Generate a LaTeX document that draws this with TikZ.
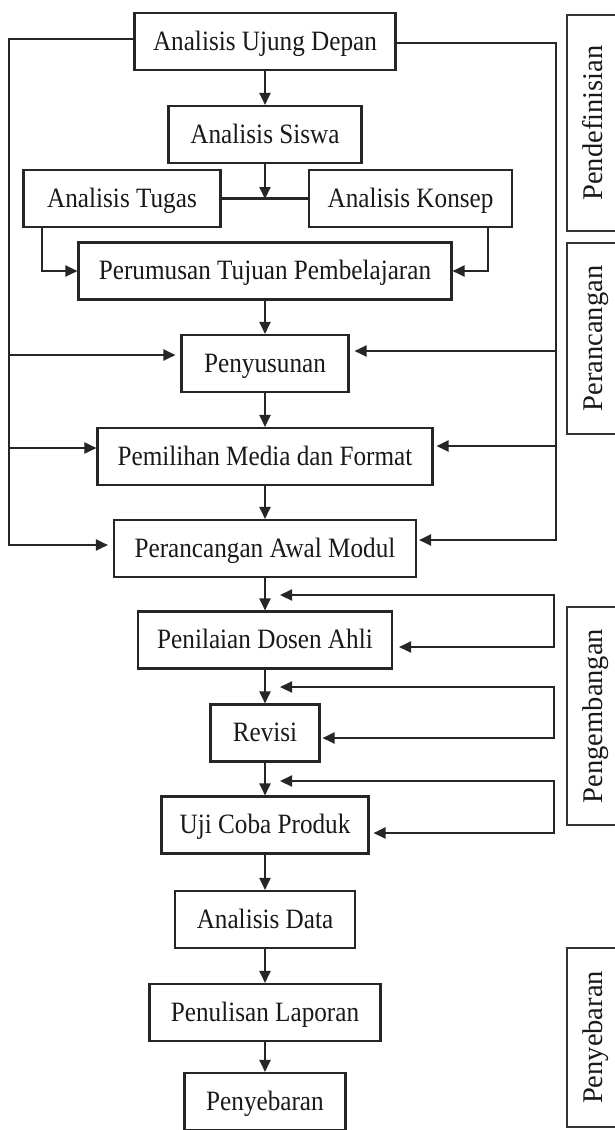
\documentclass[tikz,border=0pt]{standalone}
\usepackage{fontspec}
\setmainfont[FakeStretch=0.9]{Liberation Serif}
\newfontfamily\sidefont{Liberation Serif}
\usetikzlibrary{arrows.meta}
\begin{document}
\begin{tikzpicture}[x=1pt,y=-1pt,
  box/.style={draw=black!85, line width=2.1pt, minimum height=57pt, inner sep=0pt,
    text height=18pt, text depth=1pt, font=\fontsize{28}{31}\selectfont, text=black!90},
  ln/.style={line width=2.1pt, draw=black!85},
  arr/.style={ln, -{Triangle[length=12pt,width=11pt]}},
  barr/.style={ln, {Triangle[length=12pt,width=11pt]}-{Triangle[length=12pt,width=11pt]}},
  sidebox/.style={draw=black!80, line width=1.8pt, rotate=90, inner sep=0pt,
    minimum height=51pt, text height=19pt, text depth=0pt,
    font=\sidefont\fontsize{28.5}{32}\selectfont, text=black!90}]
\useasboundingbox (0,0) rectangle (615,1130);
\fill[white] (0,0) rectangle (615,1130);
\clip (0,0) rectangle (615,1130);

% main boxes
\node[box, minimum width=261pt] (adu) at (265,41.5) {Analisis Ujung Depan};
\node[box, minimum width=193pt] (siswa) at (265,134.5) {Analisis Siswa};
\node[box, minimum width=197pt] (tugas) at (122,198.5) {Analisis Tugas};
\node[box, minimum width=203pt] (konsep) at (410.5,198.5) {Analisis Konsep};
\node[box, minimum width=373pt] (rumus) at (265,271) {Perumusan Tujuan Pembelajaran};
\node[box, minimum width=167pt] (susun) at (265,363.5) {Penyusunan};
\node[box, minimum width=335pt] (pilih) at (265,456.5) {Pemilihan Media dan Format};
\node[box, minimum width=302pt] (awal) at (265,548.5) {Perancangan Awal Modul};
\node[box, minimum width=254pt] (nilai) at (265,640) {Penilaian Dosen Ahli};
\node[box, minimum width=109pt] (revisi) at (265,733) {Revisi};
\node[box, minimum width=207pt] (uji) at (265,825) {Uji Coba Produk};
\node[box, minimum width=180pt] (data) at (265,919.5) {Analisis Data};
\node[box, minimum width=231pt] (lapor) at (265,1012.5) {Penulisan Laporan};
\node[box, minimum width=161pt] (sebar) at (265,1101.5) {Penyebaran};

% side stage labels
\node[sidebox, minimum width=216pt] (s1) at (592.5,123) {Pendefinisian};
\node[sidebox, minimum width=191pt] (s2) at (592.5,338.5) {Perancangan};
\node[sidebox, minimum width=218pt] (s3) at (592.5,716) {Pengembangan};
\node[sidebox, minimum width=179pt] (s4) at (592.5,1037.5) {Penyebaran};

% main flow
\coordinate (j) at (265,199);
\draw[arr] (adu) -- (siswa);
\draw[arr] (siswa) -- (j);
\draw[ln] (tugas) -- (konsep);
\draw[arr] ([xshift=-80pt]tugas.south) |- (rumus.west);
\draw[arr] ([xshift=77.5pt]konsep.south) |- (rumus.east);
\draw[arr] (rumus) -- (susun);
\draw[arr] (susun) -- (pilih);
\draw[arr] (pilih) -- (awal);
\draw[arr] (awal) -- (nilai);
\draw[arr] (nilai) -- (revisi);
\draw[arr] (revisi) -- (uji);
\draw[arr] (uji) -- (data);
\draw[arr] (data) -- (lapor);
\draw[arr] (lapor) -- (sebar);

% left bus
\coordinate (lt) at (9,39);
\coordinate (l1) at (9,355);
\coordinate (l2) at (9,448);
\coordinate (l3) at (9,545);
\draw[arr, shorten >=5pt] (adu.west |- lt) -- (lt) -- (l3) -- (l3 -| awal.west);
\draw[arr, shorten >=5pt] (l1) -- (l1 -| susun.west);
\draw[arr] (l2) -- (l2 -| pilih.west);

% right bus
\coordinate (rt) at (556,43);
\coordinate (r1) at (556,351);
\coordinate (r2) at (556,446);
\coordinate (r3) at (556,540);
\draw[arr, shorten >=2pt] (adu.east |- rt) -- (rt) -- (r3) -- (r3 -| awal.east);
\draw[arr, shorten >=5pt] (r1) -- (r1 -| susun.east);
\draw[arr, shorten >=3pt] (r2) -- (r2 -| pilih.east);

% feedback loops
\coordinate (a1) at (280,595); \coordinate (b1) at (554,595); \coordinate (c1) at (554,647);
\coordinate (a2) at (280,687); \coordinate (b2) at (554,687); \coordinate (c2) at (554,738);
\coordinate (a3) at (280,781); \coordinate (b3) at (554,781); \coordinate (c3) at (554,833);
\draw[barr, shorten >=6pt] (a1) -- (b1) -- (c1) -- (c1 -| nilai.east);
\draw[barr, shorten >=2pt] (a2) -- (b2) -- (c2) -- (c2 -| revisi.east);
\draw[barr, shorten >=4pt] (a3) -- (b3) -- (c3) -- (c3 -| uji.east);
\end{tikzpicture}
\end{document}
